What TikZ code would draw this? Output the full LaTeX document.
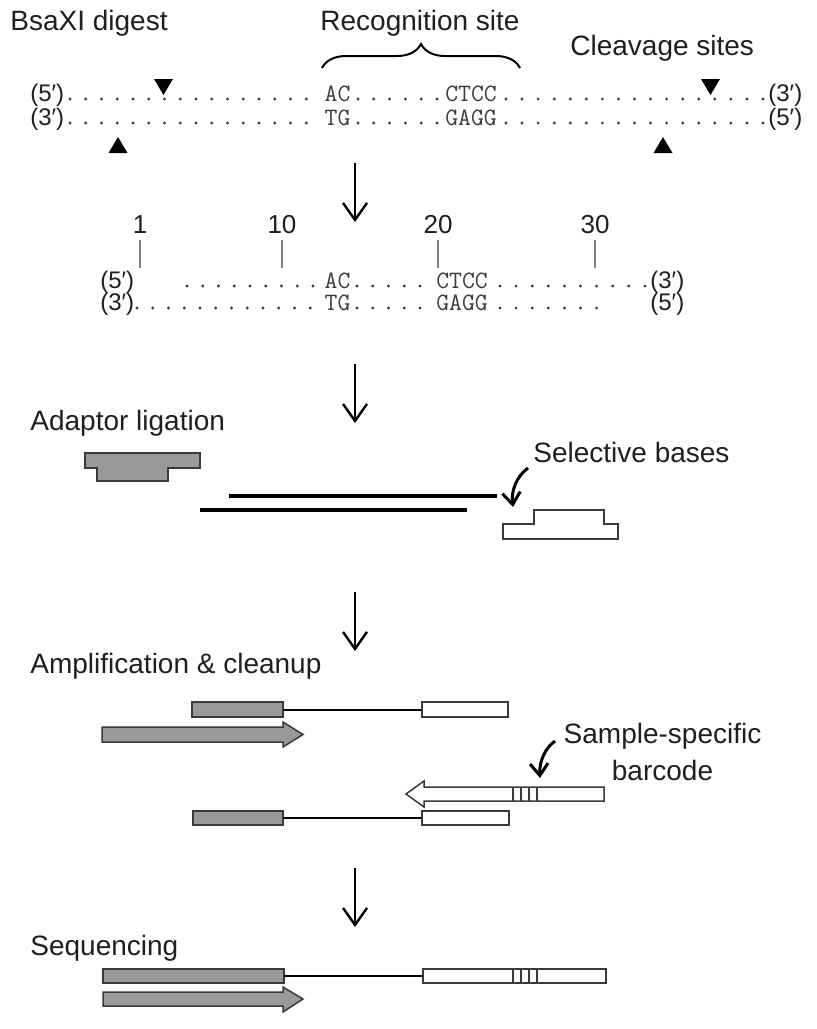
\documentclass[tikz,border=0pt]{standalone}
\usepackage{fontspec}
\setmainfont{Liberation Sans}
\usetikzlibrary{arrows.meta,decorations.pathreplacing}
\definecolor{blockgray}{HTML}{999999}
\definecolor{edgegray}{HTML}{3A3A3A}
\definecolor{seqgray}{HTML}{3C3C3C}
% row of dots: start x, pitch, count, y
\newcommand{\dotrun}[4]{%
  \foreach \k in {1,...,#3}{\fill[seqgray] ({#1+(\k-1)*#2},#4) circle[radius=0.8pt];}}

\begin{document}
\begin{tikzpicture}[x=0.5pt,y=-0.5pt,
    lbl/.style={anchor=base west, inner sep=0pt, font=\fontsize{14}{16}\selectfont, text=black!88},
    endlbl/.style={anchor=base west, inner sep=0pt, font=\fontsize{12}{14}\selectfont, text=black!88},
    seq/.style={anchor=base, inner sep=0pt, font=\ttfamily\fontsize{12.5}{14}\selectfont\addfontfeatures{FakeStretch=1.18}, text=seqgray},
    num/.style={anchor=base, inner sep=0pt, font=\fontsize{13}{15}\selectfont, text=black!88},
    posmark/.style={draw=gray, line width=0.7pt},
    stepdown/.style={line width=1.2pt, -{Straight Barb[length=8.5pt,width=12pt]}},
    pointer/.style={line width=1.5pt, -{Straight Barb[length=6pt,width=9pt]}},
    gblock/.style={draw=edgegray, fill=blockgray, line width=0.75pt},
    wblock/.style={draw=edgegray, fill=white, line width=0.75pt},
    strand/.style={line width=1.1pt},
    bandline/.style={draw=edgegray, line width=0.9pt}
  ]
\useasboundingbox (0,0) rectangle (817,1029);

% BsaXI digest
\node[lbl] (digest) at (10,30) {BsaXI digest};
\node[lbl] (recog) at (320,30) {Recognition site};
\node[lbl] (cleave) at (570,55) {Cleavage sites};
\draw[line width=1pt, decorate, decoration={brace, amplitude=12pt}] (322,68) -- (520,68);

\node[endlbl] (top5) at (30,101) {(5′)};
\dotrun{70}{15.75}{16}{99}
\node[seq] (ac1) at (337.5,101) {AC};
\dotrun{358}{15.8}{6}{99}
\node[seq] (ctcc1) at (471,101) {CTCC};
\dotrun{506}{16.06}{17}{99}
\node[endlbl] (top3) at (768,101) {(3′)};

\node[endlbl] (bot3) at (30,125) {(3′)};
\dotrun{70}{15.75}{16}{123}
\node[seq] (tg1) at (337.5,125) {TG};
\dotrun{358}{15.8}{6}{123}
\node[seq] (gagg1) at (471,125) {GAGG};
\dotrun{506}{16.06}{17}{123}
\node[endlbl] (bot5) at (768,125) {(5′)};

\fill (154,79) -- (173,79) -- (163.5,95) -- cycle;
\fill (701,79) -- (720,79) -- (710.5,95) -- cycle;
\fill (118,137) -- (108.5,153) -- (127.5,153) -- cycle;
\fill (663,137) -- (653.5,153) -- (672.5,153) -- cycle;

\coordinate (s1) at (355,163);
\coordinate (e1) at (355,222);
\draw[stepdown] (s1) -- (e1);

% fragment with positions
\foreach \n/\xx in {1/140,10/282,20/438,30/595}{
  \node[num] (pos\n) at (\xx,233) {\n};
  \draw[posmark] (\xx,240) -- (\xx,268);
}

\node[endlbl] (frag5) at (100,288) {(5′)};
\dotrun{187}{15.75}{9}{286}
\node[seq] (ac2) at (337.5,288) {AC};
\dotrun{357}{15.75}{5}{286}
\node[seq] (ctcc2) at (462,288) {CTCC};
\dotrun{500}{16.1}{10}{286}
\node[endlbl] (frag3) at (650,288) {(3′)};

\node[endlbl] (fragb3) at (100,310) {(3′)};
\dotrun{137}{15.75}{12}{308}
\node[seq] (tg2) at (337.5,310) {TG};
\dotrun{357}{15.75}{5}{308}
\node[seq] (gagg2) at (462,310) {GAGG};
\dotrun{500}{16.1}{7}{308}
\node[endlbl] (fragb5) at (650,310) {(5′)};

\coordinate (s2) at (355,364);
\coordinate (e2) at (355,423);
\draw[stepdown] (s2) -- (e2);

% Adaptor ligation
\node[lbl] (ligate) at (30,430) {Adaptor ligation};
\draw[gblock] (85,453) -- (200,453) -- (200,468) -- (168,468) -- (168,481)
  -- (97,481) -- (97,468) -- (85,468) -- cycle;
\draw[line width=1.75pt] (229,496) -- (497,496);
\draw[line width=1.75pt] (200,510) -- (467,510);
\node[lbl] (selbases) at (533,462) {Selective bases};
\draw[pointer] (528,468) .. controls (517,476) and (511,490) .. (513,507);
\draw[wblock] (503,539) -- (618,539) -- (618,524) -- (604,524) -- (604,510)
  -- (534,510) -- (534,524) -- (503,524) -- cycle;

\coordinate (s3) at (355,592);
\coordinate (e3) at (355,651);
\draw[stepdown] (s3) -- (e3);

% Amplification & cleanup
\node[lbl] (amplify) at (30,673) {Amplification \& cleanup};
\draw[gblock] (192,702) rectangle (283,717);
\draw[strand] (283,710) -- (422,710);
\draw[wblock] (422,702) rectangle (508,717);
\draw[gblock] (102,727) -- (283,727) -- (283,722) -- (303,734.5) -- (283,747)
  -- (283,742) -- (102,742) -- cycle;

\node[lbl, anchor=base] (sample) at (662.5,743) {Sample-specific};
\node[lbl, anchor=base] (barcode) at (662.5,780) {barcode};
\draw[pointer] (555,741) .. controls (545,748) and (539,762) .. (540,778);
\draw[wblock] (406,794) -- (424,781) -- (424,787) -- (604,787) -- (604,801)
  -- (424,801) -- (424,807) -- cycle;
\foreach \bx in {513,521,529,537}
  \draw[bandline] (\bx,787) -- (\bx,801);

\draw[gblock] (193,811) rectangle (283,825);
\draw[strand] (283,818) -- (422,818);
\draw[wblock] (422,811) rectangle (509,825);

\coordinate (s4) at (355,868);
\coordinate (e4) at (355,927);
\draw[stepdown] (s4) -- (e4);

% Sequencing
\node[lbl] (sequencing) at (30,955) {Sequencing};
\draw[gblock] (103,969) rectangle (284,983);
\draw[strand] (284,976) -- (423,976);
\draw[wblock] (423,969) rectangle (606,983);
\foreach \bx in {513,521,529,537}
  \draw[bandline] (\bx,969) -- (\bx,983);
\draw[gblock] (103,992) -- (283,992) -- (283,987) -- (303,999) -- (283,1012)
  -- (283,1006) -- (103,1006) -- cycle;
\end{tikzpicture}
\end{document}
